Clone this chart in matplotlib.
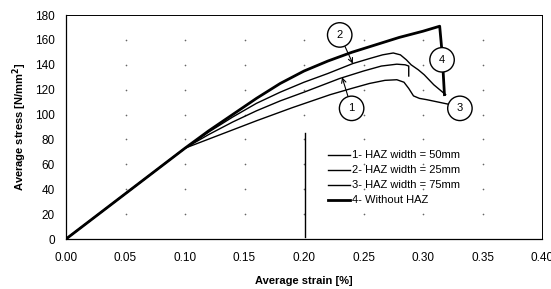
import matplotlib
matplotlib.use('Agg')
import matplotlib.pyplot as plt
import numpy as np

plt.rcParams['font.family'] = ['Liberation Sans', 'DejaVu Sans']

# curves (strain in %, stress in N/mm2)
strain_1 = [0, 0.10, 0.12, 0.14, 0.16, 0.18, 0.20, 0.23, 0.25, 0.265, 0.278, 0.285, 0.288, 0.288]
stress_1 = [0, 73, 84, 94, 103, 111, 118, 129, 135, 139, 140.5, 140, 139, 131]

strain_2 = [0, 0.10, 0.12, 0.14, 0.16, 0.18, 0.20, 0.22, 0.241, 0.255, 0.266, 0.275,
            0.281, 0.286, 0.290, 0.296, 0.301, 0.309, 0.319]
stress_2 = [0, 73, 86, 98, 109, 118, 126, 133, 141, 145, 148, 149.5,
            148, 144, 140, 136, 132, 124, 116]

strain_3 = [0, 0.10, 0.13, 0.16, 0.19, 0.222, 0.24, 0.255, 0.268, 0.278, 0.284,
            0.288, 0.292, 0.297, 0.303, 0.313, 0.323]
stress_3 = [0, 73, 84, 95, 105.5, 116, 121, 125, 127.5, 128, 126,
            121, 115, 113, 112, 110, 108]

strain_4 = [0, 0.10, 0.12, 0.14, 0.16, 0.18, 0.20, 0.22, 0.24, 0.26, 0.28, 0.30,
            0.314, 0.316, 0.318]
stress_4 = [0, 73, 87, 100, 113, 125, 135, 143, 150, 156, 162, 167, 171, 150, 116]

labels = ['1- HAZ width = 50mm', '2- HAZ width = 25mm',
          '3- HAZ width = 75mm', '4- Without HAZ']

x_ticks = [0.00, 0.05, 0.10, 0.15, 0.20, 0.25, 0.30, 0.35, 0.40]
y_ticks = [0, 20, 40, 60, 80, 100, 120, 140, 160, 180]

fig = plt.figure(figsize=(5.51, 2.89), dpi=100)
ax = fig.add_axes([0.1198, 0.173, 0.8639, 0.775])

# dotted grid: only a dot at each crossing
gx, gy = np.meshgrid(x_ticks[1:-1], y_ticks[1:-1])
ax.plot(gx.ravel(), gy.ravel(), ls='none', marker='o', ms=1.2, mew=0,
        color='#666666', zorder=1)

ax.plot(strain_1, stress_1, color='black', lw=1.0, label=labels[0])
ax.plot(strain_2, stress_2, color='black', lw=1.0, label=labels[1])
ax.plot(strain_3, stress_3, color='black', lw=1.0, label=labels[2])
ax.plot(strain_4, stress_4, color='black', lw=2.0, label=labels[3])

ax.set_xlim(0, 0.40)
ax.set_ylim(0, 180)
ax.set_xticks(x_ticks)
ax.set_yticks(y_ticks)
ax.set_xticklabels(['%.2f' % v for v in x_ticks])
ax.tick_params(axis='x', length=0, labelsize=8.5, pad=9)
ax.tick_params(axis='y', length=0, labelsize=8.5, pad=8)
for s in ax.spines.values():
    s.set_linewidth(0.9)
for s in ['top', 'right']:
    ax.spines[s].set_linestyle((0, (5, 1)))
    ax.spines[s].set_linewidth(0.7)

ax.set_xlabel('Average strain [%]', fontsize=8, fontweight='bold', labelpad=9)
ax.set_ylabel('Average stress [N/mm$^\\mathbf{2}$]', fontsize=8, fontweight='bold', labelpad=4)

# legend with the odd vertical bar at its left
leg = ax.legend(loc='upper left', bbox_to_anchor=(0.538, 0.42), frameon=False,
                fontsize=8, handlelength=2.0, handletextpad=0.2,
                labelspacing=0.45, borderpad=0)
ax.plot([0.201, 0.201], [2, 85], color='black', lw=1.0)

circ = dict(boxstyle='circle,pad=0.65', fc='white', ec='black', lw=1.0)
arrow = dict(arrowstyle='->', color='black', lw=0.8, shrinkA=0, shrinkB=0)
ax.annotate('2', xy=(0.241, 141), xytext=(0.230, 164), fontsize=8,
            ha='center', va='center', bbox=circ, arrowprops=arrow)
ax.annotate('1', xy=(0.232, 130), xytext=(0.240, 105), fontsize=8,
            ha='center', va='center', bbox=circ, arrowprops=arrow)
ax.annotate('3', xy=(0.323, 108), xytext=(0.331, 105), fontsize=8,
            ha='center', va='center', bbox=circ)
ax.annotate('4', xy=(0.316, 144), xytext=(0.316, 144), fontsize=8,
            ha='center', va='center', bbox=circ)

fig.savefig('out.png', dpi=100)
